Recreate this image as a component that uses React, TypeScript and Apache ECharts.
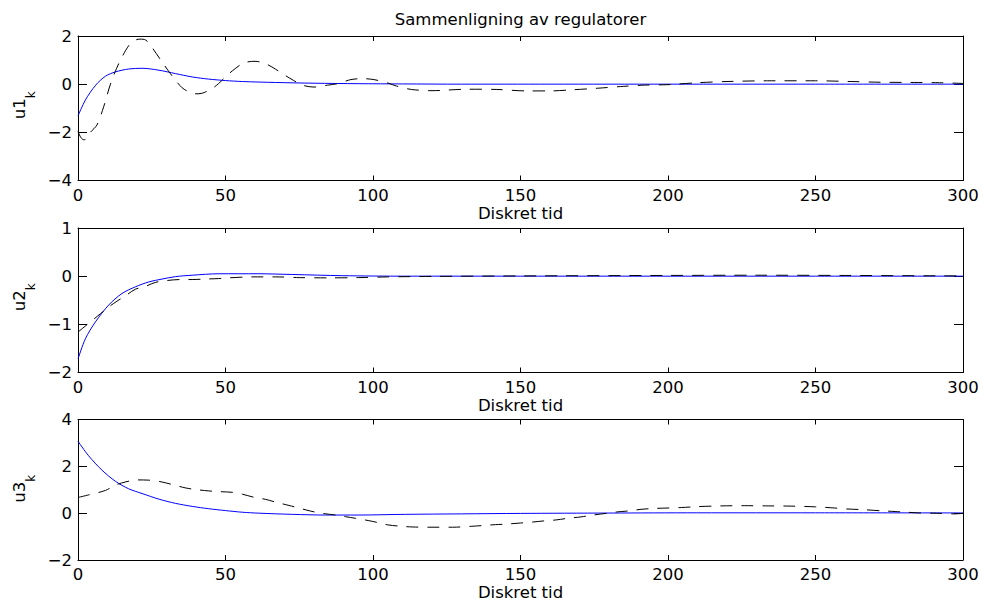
import React, { useEffect, useRef } from "react";
import * as echarts from "echarts";

const FONT = '"DejaVu Sans", "Liberation Sans", sans-serif';

// Discrete time axis
const xMin = 0;
const xMax = 300;
const xStep = 50;

// Per-panel value ranges
const yMins = [-4, -2, -2];
const yMaxs = [2, 1, 4];
const ySteps = [2, 1, 2];

const titleText = "Sammenligning av regulatorer";
const xLabel = "Diskret tid";
const yNames = ["u1", "u2", "u3"];
const ySub = "k";

// u1: solid (blue) and dashed (black) controller outputs
const u1SolidK = [0, 2.5, 6, 9.3, 12.7, 17.2, 21.7, 27.4, 33, 38.7, 44.3, 50, 55.7, 67, 80, 95, 110, 130, 160, 200, 250, 300];
const u1SolidV = [-1.32, -0.66, -0.04, 0.33, 0.51, 0.63, 0.66, 0.58, 0.44, 0.3, 0.21, 0.15, 0.11, 0.07, 0.04, 0.02, 0.01, 0, 0, 0, 0, 0];
const u1DashK = [0, 1, 2, 3, 4.2, 6.4, 8.7, 11, 13.8, 17.2, 19.5, 21, 23, 25, 28.5, 31.3, 33, 35.3, 37.6, 40, 42, 45.5, 47.7, 50, 52.3, 56.2, 60, 63.6, 67, 70, 73, 76, 80, 84.6, 88, 92.5, 96.5, 100.3, 105, 108, 113, 120, 132, 142, 152, 160, 168, 176, 185, 192, 200, 210, 220, 235, 250, 262, 272, 285, 292, 300];
const u1DashV = [-1.97, -2.22, -2.31, -2.25, -2.0, -1.7, -0.94, 0.0, 0.85, 1.6, 1.83, 1.87, 1.83, 1.54, 0.92, 0.44, 0.17, -0.15, -0.32, -0.4, -0.38, -0.18, 0.03, 0.3, 0.55, 0.88, 0.95, 0.85, 0.62, 0.38, 0.16, -0.04, -0.12, -0.04, 0.02, 0.19, 0.23, 0.19, 0.05, -0.08, -0.22, -0.27, -0.21, -0.22, -0.28, -0.28, -0.23, -0.17, -0.09, -0.04, -0.02, 0.06, 0.11, 0.14, 0.14, 0.11, 0.08, 0.07, 0.06, 0.03];

// u2
const u2SolidK = [0, 2.5, 5.9, 10.4, 14.9, 19.5, 24, 28.5, 33, 38.7, 47.7, 61, 72.6, 89.6, 111, 150, 200, 250, 300];
const u2SolidV = [-1.72, -1.3, -0.95, -0.6, -0.36, -0.22, -0.12, -0.06, -0.01, 0.02, 0.05, 0.05, 0.035, 0.01, 0, 0, 0, 0, 0];
const u2DashK = [0, 4.2, 7.6, 10.4, 13.2, 16, 19.5, 22.9, 26.2, 30.2, 34.7, 38.7, 43, 47.7, 51, 59, 67, 75, 85, 95, 105, 120, 150, 200, 230, 260, 300];
const u2DashV = [-1.16, -0.95, -0.78, -0.64, -0.52, -0.41, -0.27, -0.21, -0.13, -0.09, -0.07, -0.07, -0.06, -0.05, -0.035, -0.015, -0.015, -0.03, -0.035, -0.03, -0.015, -0.005, 0.005, 0.015, 0.02, 0.015, 0.005];

// u3
const u3SolidK = [0, 3.6, 8.1, 12.7, 17.2, 21.7, 27.4, 33, 38.7, 44.3, 50, 55.7, 61.3, 72.6, 84, 95, 111, 130, 150, 180, 210, 250, 300];
const u3SolidV = [3.07, 2.45, 1.84, 1.36, 1.04, 0.84, 0.6, 0.42, 0.29, 0.19, 0.11, 0.04, 0.0, -0.05, -0.08, -0.08, -0.05, -0.03, -0.01, 0.005, 0.015, 0.015, 0.01];
const u3DashK = [0, 3.6, 9.3, 12.7, 16, 20, 24, 28.5, 32, 36.4, 39.8, 44.3, 47.7, 52.3, 55.7, 59.6, 63.6, 67, 71.5, 74.9, 78.8, 82.8, 87.3, 90.7, 94.1, 98.6, 102, 105, 109.5, 113.5, 119, 127, 133.5, 137, 141.5, 145, 150, 154, 158, 162, 166, 170.5, 174.5, 179, 182.5, 187, 190.5, 195, 200, 204.5, 210, 218, 226, 234, 242, 250, 256.5, 260.5, 266, 272.5, 277, 281, 285, 291, 297, 300];
const u3DashV = [0.67, 0.78, 0.97, 1.2, 1.33, 1.42, 1.41, 1.33, 1.22, 1.08, 1.01, 0.95, 0.92, 0.89, 0.81, 0.68, 0.59, 0.47, 0.33, 0.22, 0.09, -0.01, -0.08, -0.15, -0.22, -0.32, -0.41, -0.5, -0.56, -0.59, -0.6, -0.6, -0.56, -0.53, -0.49, -0.47, -0.42, -0.38, -0.33, -0.29, -0.22, -0.16, -0.08, -0.01, 0.05, 0.1, 0.16, 0.2, 0.22, 0.24, 0.28, 0.31, 0.32, 0.31, 0.3, 0.27, 0.22, 0.18, 0.15, 0.1, 0.07, 0.04, 0.01, -0.005, -0.03, -0.01];

const solidK = [u1SolidK, u2SolidK, u3SolidK];
const solidV = [u1SolidV, u2SolidV, u3SolidV];
const dashK = [u1DashK, u2DashK, u3DashK];
const dashV = [u1DashV, u2DashV, u3DashV];

const zip = (k: number[], v: number[]) => k.map((x, i) => [x, v[i]]);

// Panel geometry (pixels)
const gridLeft = 78;
const gridRight = 21;
const gridTops = [36, 228, 419.5];
const gridHeight = 144.5;

const minus = (v: number) => String(v).replace("-", "\u2212");

export default function App() {
  const ref = useRef<HTMLDivElement>(null);

  useEffect(() => {
    if (!ref.current) return;
    const chart = echarts.init(ref.current, null, { renderer: "svg" });

    const grids = gridTops.map((t) => ({ left: gridLeft, right: gridRight, top: t, height: gridHeight }));
    const black = "#000";
    const lineCommon = { onZero: false, lineStyle: { color: black, width: 1 } };

    const xAxes: any[] = [];
    const yAxes: any[] = [];
    const series: any[] = [];
    const graphics: any[] = [];

    for (let i = 0; i < 3; i++) {
      xAxes.push({
        type: "value", gridIndex: i, position: "bottom", min: xMin, max: xMax, interval: xStep,
        axisLine: lineCommon,
        axisTick: { inside: true, length: 5, lineStyle: { color: black } },
        axisLabel: { color: black, fontFamily: FONT, fontSize: 16.5, margin: 6 },
        splitLine: { show: false },
        name: xLabel, nameLocation: "middle", nameGap: 24,
        nameTextStyle: { color: black, fontFamily: FONT, fontSize: 16.5 },
      });
      xAxes.push({
        type: "value", gridIndex: i, position: "top", min: xMin, max: xMax, interval: xStep,
        axisLine: lineCommon,
        axisTick: { inside: true, length: 5, lineStyle: { color: black } },
        axisLabel: { show: false },
        splitLine: { show: false },
      });
      yAxes.push({
        type: "value", gridIndex: i, position: "left", min: yMins[i], max: yMaxs[i], interval: ySteps[i],
        axisLine: lineCommon,
        axisTick: { inside: true, length: 9, lineStyle: { color: black } },
        axisLabel: { color: black, fontFamily: FONT, fontSize: 16.5, margin: 6, formatter: minus },
        splitLine: { show: false },
      });
      yAxes.push({
        type: "value", gridIndex: i, position: "right", min: yMins[i], max: yMaxs[i], interval: ySteps[i],
        axisLine: lineCommon,
        axisTick: { inside: true, length: 9, lineStyle: { color: black } },
        axisLabel: { show: false },
        splitLine: { show: false },
      });

      series.push({
        type: "line", xAxisIndex: 2 * i, yAxisIndex: 2 * i,
        data: zip(solidK[i], solidV[i]),
        showSymbol: false, smooth: 0.3,
        lineStyle: { color: "#0000ff", width: 1 },
      });
      series.push({
        type: "line", xAxisIndex: 2 * i, yAxisIndex: 2 * i,
        data: zip(dashK[i], dashV[i]),
        showSymbol: false, smooth: 0.3,
        lineStyle: { color: black, width: 1, type: [12, 9] },
      });

      // Rotated y label with subscript
      const center = gridTops[i] + gridHeight / 2 - 3;
      graphics.push({
        type: "text", x: 28, y: center + 3.5, rotation: Math.PI / 2,
        style: { text: yNames[i], fontFamily: FONT, fontSize: 16.5, fill: black, textAlign: "center", textVerticalAlign: "bottom" },
      });
      graphics.push({
        type: "text", x: 37, y: center - 10.5, rotation: Math.PI / 2,
        style: { text: ySub, fontFamily: FONT, fontSize: 12, fill: black, textAlign: "center", textVerticalAlign: "bottom" },
      });
    }

    graphics.push({
      type: "text", x: gridLeft + (984 - gridLeft - gridRight) / 2, y: 19,
      style: { text: titleText, fontFamily: FONT, fontSize: 16.5, fill: black, textAlign: "center", textVerticalAlign: "middle" },
    });

    chart.setOption({
      animation: false,
      backgroundColor: "#fff",
      grid: grids,
      xAxis: xAxes,
      yAxis: yAxes,
      series,
      graphic: graphics,
    });

    return () => chart.dispose();
  }, []);

  return <div ref={ref} style={{ width: 984, height: 602, position: "absolute", left: 0, top: 0 }} />;
}
